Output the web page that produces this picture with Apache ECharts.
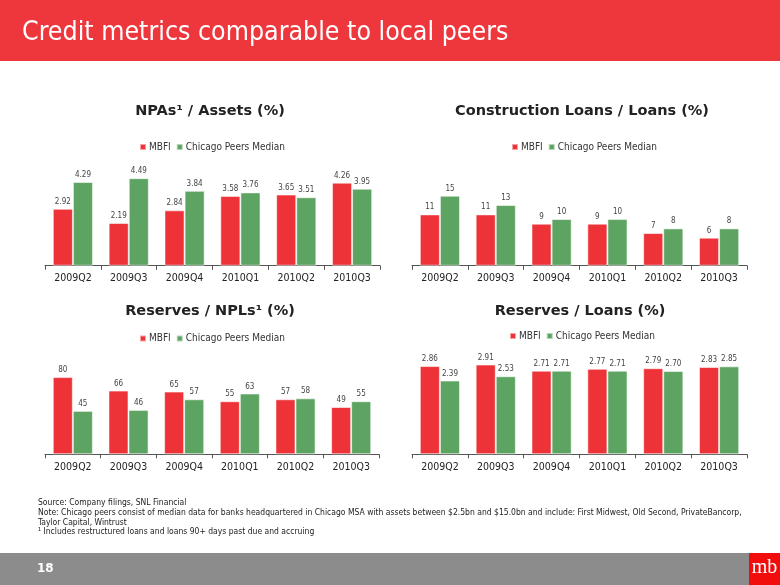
<!DOCTYPE html>
<html><head><meta charset="utf-8">
<script src="https://cdn.jsdelivr.net/npm/echarts@6/dist/echarts.min.js"></script>
<style>html,body{margin:0;padding:0;background:#fff}#c{width:780px;height:585px}</style>
</head><body><div id="c"></div>
<script>
const categories = ['2009Q2','2009Q3','2009Q4','2010Q1','2010Q2','2010Q3'];
const seriesNames = ['MBFI','Chicago Peers Median'];
const npaMBFI = [2.92, 2.19, 2.84, 3.58, 3.65, 4.26];
const npaPeers = [4.29, 4.49, 3.84, 3.76, 3.51, 3.95];
const constrMBFI = [11, 11, 9, 9, 7, 6];
const constrPeers = [15, 13, 10, 10, 8, 8];
const resNplMBFI = [80, 66, 65, 55, 57, 49];
const resNplPeers = [45, 46, 57, 63, 58, 55];
const resLoanMBFI = [2.86, 2.91, 2.71, 2.77, 2.79, 2.83];
const resLoanPeers = [2.39, 2.53, 2.71, 2.71, 2.70, 2.85];
const chartTitles = ['NPAs\u00b9 / Assets (%)', 'Construction Loans / Loans (%)', 'Reserves / NPLs\u00b9 (%)', 'Reserves / Loans (%)'];
const labelFormats = [2, 0, 0, 2];

const RED = '#ED3338', GREEN = '#5DA361';
const FONT = "'DejaVu Sans', Verdana, sans-serif";
const COND = "'DejaVu Sans Condensed', 'DejaVu Sans', sans-serif";

const panels = [
  {left:45, width:335, top:148.7, height:117, max:6, tx:210, ty:111, ly:147, m:npaMBFI, p:npaPeers},
  {left:412, width:335, top:172.4, height:93.3, max:20, tx:582, ty:111, ly:147, m:constrMBFI, p:constrPeers},
  {left:45, width:334, top:357.8, height:96.5, max:100, tx:210, ty:311, ly:338.5, m:resNplMBFI, p:resNplPeers},
  {left:412, width:335, top:346.3, height:108, max:3.5, tx:580, ty:311, ly:336, m:resLoanMBFI, p:resLoanPeers}
];

const grid = [], xAxis = [], yAxis = [], series = [], legend = [], graphic = [];
panels.forEach((pn, i) => {
  grid.push({left:pn.left, top:pn.top, width:pn.width, height:pn.height, containLabel:false});
  xAxis.push({type:'category', gridIndex:i, data:categories,
    axisLine:{lineStyle:{color:'#555', width:1}},
    axisTick:{show:true, length:4, lineStyle:{color:'#555'}},
    axisLabel:{interval:0, color:'#222', fontSize:10.5, fontFamily:COND, margin:7}});
  yAxis.push({type:'value', gridIndex:i, min:0, max:pn.max, show:false, splitLine:{show:false}});
  const dec = labelFormats[i];
  [pn.m, pn.p].forEach((arr, k) => {
    series.push({name:seriesNames[k], type:'bar', xAxisIndex:i, yAxisIndex:i, data:arr,
      barGap:'0%', barCategoryGap:'28%',
      itemStyle:{color:k===0?RED:GREEN, borderColor:'rgba(255,255,255,0.55)', borderWidth:1},
      label:{show:true, position:'top', distance:3, fontSize:8, color:'#444', fontFamily:COND,
        formatter:(p)=>p.value.toFixed(dec)},
      animation:false});
  });
  legend.push({data:seriesNames, left:pn.tx - 71, top:pn.ly-5, orient:'horizontal',
    itemWidth:6, itemHeight:6, itemGap:5, icon:'rect', padding:0,
    textStyle:{fontSize:10, color:'#333', fontFamily:COND, padding:[0,0,0,-2]}});
  graphic.push({type:'text', x:pn.tx, y:pn.ty,
    style:{text:chartTitles[i], fontSize:14.5, fontWeight:'bold', fontFamily:FONT, fill:'#222', textAlign:'center', textVerticalAlign:'middle'}});
});

const chart = echarts.init(document.getElementById('c'), null, {renderer:'canvas'});

const footerLines = [
  'Source: Company filings, SNL Financial',
  'Note: Chicago peers consist of median data for banks headquartered in Chicago MSA with assets between $2.5bn and $15.0bn and include: First Midwest, Old Second, PrivateBancorp,',
  'Taylor Capital, Wintrust',
  '\u00b9 Includes restructured loans and loans 90+ days past due and accruing'
];

const bg = [
  {type:'rect', left:0, top:0, shape:{width:780, height:61}, style:{fill:'#EE373D'}, z:-1},
  {type:'text', x:22, y:33, style:{text:'Credit metrics comparable to local peers', fontSize:26.5, fontFamily:COND, fill:'#fff', textVerticalAlign:'middle'}},
  {type:'rect', left:0, top:553, shape:{width:780, height:32}, style:{fill:'#8C8C8C'}, z:-1},
  {type:'text', x:37, y:569, style:{text:'18', fontSize:12, fontWeight:'bold', fontFamily:FONT, fill:'#fff', textVerticalAlign:'middle'}},
  {type:'rect', left:749, top:553, shape:{width:31, height:32}, style:{fill:'#F20D0D'}},
  {type:'text', x:764.5, y:568, style:{text:'mb', fontSize:20, fontFamily:"'Liberation Serif', 'DejaVu Serif', serif", fill:'#fff', textAlign:'center', textVerticalAlign:'middle'}}
];
footerLines.forEach((t, i) => {
  bg.push({type:'text', x:38, y:503 + i*9.7, style:{text:t, fontSize:8.5, fontFamily:COND, fill:'#222', textVerticalAlign:'middle'}});
});

chart.setOption({
  animation:false,
  grid, xAxis, yAxis, series, legend,
  graphic: bg.concat(graphic)
});
</script></body></html>
